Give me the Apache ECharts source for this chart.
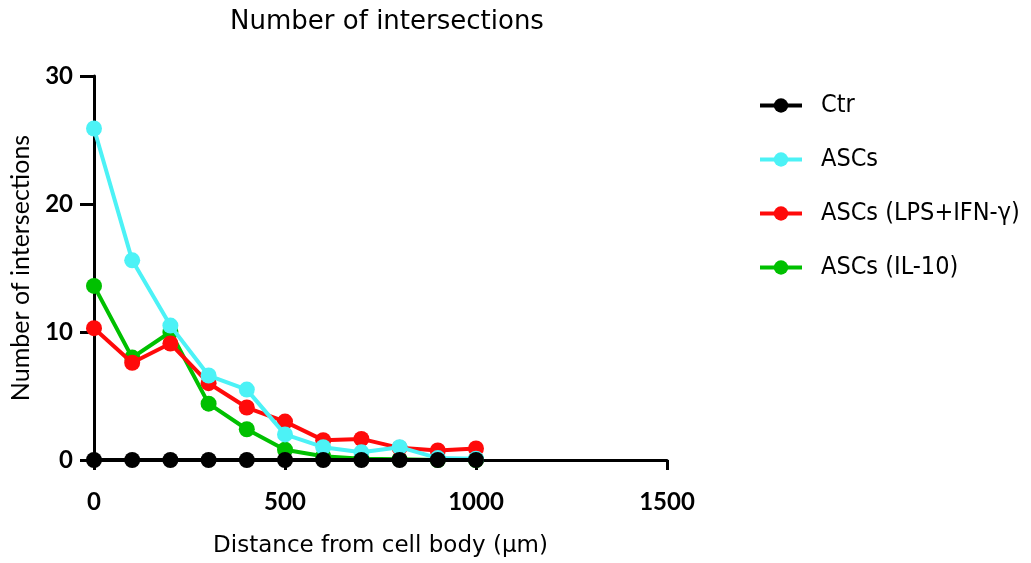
<!DOCTYPE html>
<html>
<head>
<meta charset="utf-8">
<script src="https://cdn.jsdelivr.net/npm/echarts@6/dist/echarts.min.js"></script>
<style>
  html, body { margin: 0; padding: 0; background: #fff; }
  #chart { width: 1031px; height: 563px; }
</style>
</head>
<body>
<div id="chart"></div>
<script>
// Sholl analysis: intersections vs. distance from the cell body
const distances = [0, 100, 200, 300, 400, 500, 600, 700, 800, 900, 1000];
const ctr      = [0, 0, 0, 0, 0, 0, 0, 0, 0, 0, 0];
const ascs     = [25.9, 15.6, 10.5, 6.6, 5.5, 2.0, 1.0, 0.6, 1.0, 0.15, 0.1];
const ascsLps  = [10.3, 7.6, 9.1, 6.0, 4.1, 3.0, 1.55, 1.65, 0.95, 0.75, 0.9];
const ascsIl10 = [13.6, 8.0, 10.0, 4.4, 2.4, 0.8, 0.3, 0.1, 0.05, 0, 0];

const seriesNames = ['Ctr', 'ASCs', 'ASCs (LPS+IFN-\u03b3)', 'ASCs (IL-10)'];
const seriesColors = ['#000000', '#4cf2f6', '#ff0a0a', '#00c000'];
const seriesValues = [ctr, ascs, ascsLps, ascsIl10];
const zOrder = [5, 4, 3, 2];

const pair = vals => distances.map((d, i) => [d, vals[i]]);

const titleFont = 'DejaVu Sans';
const legendFont = 'DejaVu Sans Condensed';
const numFont = 'Lato';

const chart = echarts.init(document.getElementById('chart'), null, { renderer: 'canvas' });

chart.setOption({
  animation: false,
  backgroundColor: '#ffffff',
  title: {
    text: 'Number of intersections',
    left: 382,
    textAlign: 'center',
    top: 4,
    textStyle: { fontFamily: titleFont, fontSize: 26, fontWeight: 'normal', color: '#000' }
  },
  grid: { left: 93, right: 364, top: 76, bottom: 103, containLabel: false },
  legend: {
    orient: 'vertical',
    left: 753,
    top: 88,
    itemWidth: 42,
    itemHeight: 18,
    itemGap: 29,
    data: seriesNames,
    lineStyle: { width: 4 },
    textStyle: { fontFamily: legendFont, fontSize: 25, color: '#000', padding: [0, 0, 0, 14] }
  },
  xAxis: {
    type: 'value',
    min: 0,
    max: 1500,
    interval: 500,
    name: 'Distance from cell body (\u03bcm)',
    nameLocation: 'middle',
    nameGap: 75,
    nameTextStyle: { fontFamily: titleFont, fontSize: 23, color: '#000' },
    axisLine: { onZero: false, lineStyle: { color: '#000', width: 3 } },
    axisTick: { show: true, length: 10, lineStyle: { color: '#000', width: 3 } },
    axisLabel: {
      margin: 30, fontFamily: numFont, fontWeight: 'bold', fontSize: 24, color: '#000',
      formatter: v => String(v)
    },
    splitLine: { show: false }
  },
  yAxis: {
    type: 'value',
    min: 0,
    max: 30,
    interval: 10,
    name: 'Number of intersections',
    nameLocation: 'middle',
    nameGap: 61,
    nameTextStyle: { fontFamily: numFont, fontSize: 25, color: '#000' },
    axisLine: { onZero: false, lineStyle: { color: '#000', width: 3 } },
    axisTick: { show: true, length: 14, lineStyle: { color: '#000', width: 3 } },
    axisLabel: { margin: 21, fontFamily: numFont, fontWeight: 'bold', fontSize: 24, color: '#000' },
    splitLine: { show: false }
  },
  series: seriesNames.map((name, i) => ({
    name: name,
    type: 'line',
    data: pair(seriesValues[i]),
    z: zOrder[i],
    symbol: 'circle',
    symbolSize: 16,
    showAllSymbol: true,
    clip: false,
    lineStyle: { color: seriesColors[i], width: 4 },
    itemStyle: { color: seriesColors[i] },
    emphasis: { disabled: true }
  }))
});
</script>
</body>
</html>
